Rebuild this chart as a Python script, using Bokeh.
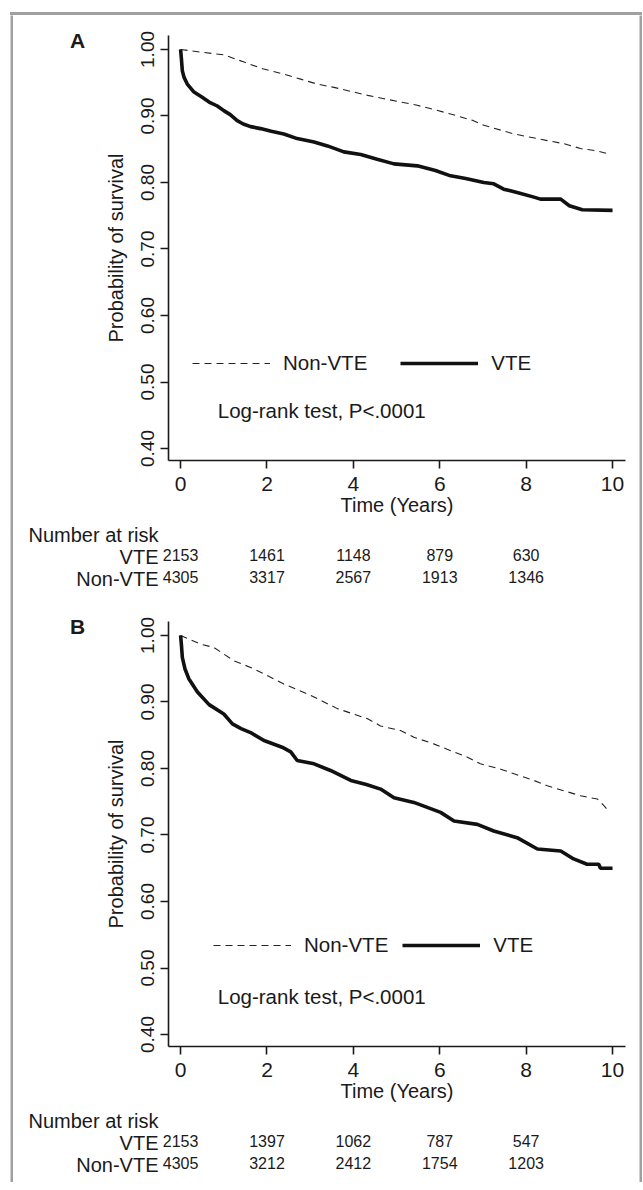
from bokeh.plotting import figure
from bokeh.models import (Range1d, FactorRange, FixedTicker, Label, Legend, LegendItem,
                          NumeralTickFormatter, Div, Spacer)
from bokeh.layouts import column, row
from bokeh.core.properties import value
from bokeh.embed import file_html
from bokeh.resources import INLINE

FONT = "Liberation Sans"
TXT = "#1a1a1a"
GRAY = "#a0a0a0"

# ---------------- data ----------------
x_ticks = [0, 2, 4, 6, 8, 10]
y_ticks = [0.4, 0.5, 0.6, 0.7, 0.8, 0.9, 1.0]
risk_times = [0, 2, 4, 6, 8]

# Panel A
a_vte_t = [0, 0.02, 0.04, 0.08, 0.155, 0.31, 0.5, 0.66, 0.85, 1.0, 1.15, 1.31, 1.45, 1.62, 1.85, 2.1,
           2.39, 2.70, 3.09, 3.4, 3.78, 4.17, 4.55, 4.94, 5.48, 5.9, 6.25, 6.6, 7.02, 7.25, 7.48,
           7.79, 8.18, 8.33, 8.8, 9.0, 9.3, 10.0]
a_vte_s = [1.0, 0.985, 0.968, 0.958, 0.948, 0.936, 0.928, 0.921, 0.915, 0.908, 0.902, 0.893, 0.888,
           0.884, 0.881, 0.877, 0.873, 0.866, 0.861, 0.855, 0.846, 0.842, 0.835, 0.828, 0.825, 0.818,
           0.810, 0.806, 0.800, 0.798, 0.790, 0.785, 0.778, 0.775, 0.775, 0.765, 0.759, 0.758]
a_non_t = [0, 0.46, 1.0, 1.47, 1.9, 2.39, 2.8, 3.16, 3.55, 3.94, 4.33, 4.71, 5.1, 5.48, 5.85, 6.25,
           6.78, 7.02, 7.72, 8.1, 8.49, 8.9, 9.26, 9.6, 9.91]
a_non_s = [1.0, 0.996, 0.992, 0.981, 0.971, 0.963, 0.955, 0.948, 0.943, 0.937, 0.931, 0.926, 0.921,
           0.916, 0.910, 0.903, 0.893, 0.886, 0.873, 0.868, 0.863, 0.858, 0.851, 0.848, 0.843]
a_risk_vte = ["2153", "1461", "1148", "879", "630"]
a_risk_non = ["4305", "3317", "2567", "1913", "1346"]

# Panel B
b_vte_t = [0, 0.02, 0.04, 0.1, 0.19, 0.39, 0.66, 1.0, 1.20, 1.4, 1.62, 1.93, 2.35, 2.55, 2.70, 3.09,
           3.47, 3.94, 4.3, 4.63, 4.94, 5.40, 6.02, 6.33, 6.87, 7.25, 7.79, 8.26, 8.80, 9.10, 9.41,
           9.68, 9.72, 10.0]
b_vte_s = [1.0, 0.985, 0.967, 0.95, 0.935, 0.915, 0.896, 0.882, 0.867, 0.86, 0.854, 0.842, 0.832,
           0.825, 0.812, 0.807, 0.797, 0.782, 0.776, 0.769, 0.756, 0.749, 0.734, 0.721, 0.716, 0.706,
           0.696, 0.679, 0.676, 0.664, 0.656, 0.656, 0.650, 0.650]
b_non_t = [0, 0.46, 0.77, 1.23, 1.62, 2.0, 2.39, 3.01, 3.63, 4.32, 4.63, 5.09, 5.40, 5.86, 6.17,
           6.64, 6.94, 7.41, 7.72, 8.18, 8.49, 9.26, 9.65, 9.80, 9.91]
b_non_s = [1.0, 0.987, 0.982, 0.962, 0.952, 0.940, 0.927, 0.910, 0.890, 0.875, 0.864, 0.857, 0.847,
           0.837, 0.829, 0.817, 0.807, 0.799, 0.792, 0.782, 0.774, 0.759, 0.754, 0.744, 0.736]
b_risk_vte = ["2153", "1397", "1062", "787", "547"]
b_risk_non = ["4305", "3212", "2412", "1754", "1203"]

group_labels = ["VTE", "Non-VTE"]
table_title = "Number at risk"
test_text = "Log-rank test, P<.0001"

# ---------------- layout constants ----------------
X_START, X_END = -0.28, 10.3
Y_START, Y_END = 0.382, 1.021
INNER_W = 626
LETTER_W = 80
MAIN_W = INNER_W - LETTER_W
MAIN_LEFT = 75
MAIN_RIGHT = 14
FRAME_W = MAIN_W - MAIN_LEFT - MAIN_RIGHT
FRAME_H = 425
PX = FRAME_W / (X_END - X_START)
TABLE_H = 66


def blank(width, height, fill="white"):
    f = figure(width=width, height=height, output_backend="svg", toolbar_location=None,
               title=None, x_axis_location=None, y_axis_location=None, min_border=0,
               x_range=Range1d(0, width), y_range=Range1d(0, height))
    f.outline_line_color = None
    f.grid.visible = False
    f.background_fill_color = fill
    f.border_fill_color = fill
    return f


def letter_column(letter, total_height, center_from_top):
    h = 2 * center_from_top
    f = figure(width=LETTER_W, height=h, output_backend="svg", toolbar_location=None,
               title=None, x_axis_location=None, y_axis_location=None, min_border=0,
               x_range=Range1d(0, LETTER_W), y_range=FactorRange(factors=[letter]))
    f.outline_line_color = None
    f.grid.visible = False
    f.text(x=[64], y=[letter], text=[letter], text_font=value(FONT),
           text_font_size="21px", text_font_style="bold", text_color=TXT,
           text_align="center", text_baseline="middle")
    return column(f, Spacer(width=LETTER_W, height=total_height - h))


def main_fig(vt, vs, nt, ns, top_border, leg_x, leg_y, leg_spacing):
    bottom_border = 63
    p = figure(width=MAIN_W, height=top_border + FRAME_H + bottom_border,
               output_backend="svg", toolbar_location=None, title=None,
               x_range=Range1d(X_START, X_END), y_range=Range1d(Y_START, Y_END),
               min_border_left=MAIN_LEFT, min_border_right=MAIN_RIGHT,
               min_border_top=top_border, min_border_bottom=bottom_border)
    p.outline_line_color = None
    p.grid.visible = False

    rn = p.line(nt, ns, line_color="#222222", line_width=1.1, line_dash="7 5")
    rv = p.line(vt, vs, line_color="#111111", line_width=3.6)

    for ax in (p.xaxis[0], p.yaxis[0]):
        ax.axis_line_color = TXT
        ax.axis_line_width = 1.6
        ax.major_tick_line_color = TXT
        ax.major_tick_line_width = 1.6
        ax.major_tick_out = 8
        ax.major_tick_in = 0
        ax.minor_tick_line_color = None
        ax.major_label_text_font = FONT
        ax.major_label_text_color = TXT
        ax.axis_label_text_font = FONT
        ax.axis_label_text_color = TXT
        ax.axis_label_text_font_style = "normal"
        ax.axis_label_text_font_size = "20px"

    xa = p.xaxis[0]
    xa.ticker = FixedTicker(ticks=x_ticks)
    xa.major_label_text_font_size = "21px"
    xa.major_label_standoff = 8
    xa.axis_label = "Time (Years)"
    xa.axis_label_standoff = 0

    ya = p.yaxis[0]
    ya.ticker = FixedTicker(ticks=y_ticks)
    ya.formatter = NumeralTickFormatter(format="0.00")
    ya.major_label_orientation = "vertical"
    ya.major_label_text_font_size = "19px"
    ya.major_label_standoff = 6
    ya.axis_label = "Probability of survival"
    ya.axis_label_standoff = 12

    legend = Legend(items=[LegendItem(label="Non-VTE", renderers=[rn]),
                           LegendItem(label="VTE", renderers=[rv])],
                    orientation="horizontal", location=(leg_x, leg_y),
                    glyph_width=78, glyph_height=24, label_height=24,
                    label_standoff=13, spacing=leg_spacing, padding=0, margin=0,
                    border_line_color=None, background_fill_alpha=0,
                    label_text_font=FONT, label_text_font_size="20.5px",
                    label_text_color=TXT)
    p.add_layout(legend)

    p.add_layout(Label(x=0.86, y=0.457, text=test_text, text_font=FONT, text_font_size="20.5px",
                       text_color=TXT, text_baseline="middle", text_align="left"))
    return p


def table_fig(risk_v, risk_n):
    t0 = X_START - (LETTER_W + MAIN_LEFT) / PX
    t1 = X_END + MAIN_RIGHT / PX
    f = figure(width=INNER_W, height=TABLE_H, output_backend="svg", toolbar_location=None,
               title=None, x_range=Range1d(t0, t1),
               y_range=FactorRange(factors=["Non-VTE", "VTE", table_title]),
               x_axis_location=None, y_axis_location=None, min_border=0)
    f.outline_line_color = None
    f.grid.visible = False
    f.text(x=[t0 + 15 / PX], y=[table_title], text=[table_title], text_font=value(FONT),
           text_font_size="20px", text_color=TXT, text_align="left", text_baseline="middle")
    label_x = X_START - 10 / PX
    f.text(x=[label_x, label_x], y=group_labels, text=group_labels, text_font=value(FONT),
           text_font_size="20px", text_color=TXT, text_align="right", text_baseline="middle")
    for name, vals in zip(group_labels, [risk_v, risk_n]):
        f.text(x=risk_times, y=[name] * len(vals), text=vals, text_font=value(FONT),
               text_font_size="16px", text_color=TXT, text_align="center",
               text_baseline="middle", y_offset=-2)
    return f


mainA = main_fig(a_vte_t, a_vte_s, a_non_t, a_non_s, top_border=20, leg_x=24, leg_y=85, leg_spacing=33)
mainB = main_fig(b_vte_t, b_vte_s, b_non_t, b_non_s, top_border=32, leg_x=45, leg_y=89, leg_spacing=14)

panelA = column(row(letter_column("A", mainA.height, 25), mainA), table_fig(a_risk_vte, a_risk_non))
panelB = column(row(letter_column("B", mainB.height, 37), mainB), table_fig(b_risk_vte, b_risk_non))
content = column(panelA, panelB, blank(INNER_W, 7))

content_h = mainA.height + mainB.height + 2 * TABLE_H + 7
top_bar = Div(text="", width=INNER_W + 6, height=3,
              styles={"background-color": GRAY, "padding": "0", "margin": "0"})
framed = column(top_bar,
                row(blank(3, content_h, GRAY), content, blank(3, content_h, GRAY)),
                margin=(12, 0, 0, 10))

open("out.html", "w").write(file_html(framed, INLINE))
